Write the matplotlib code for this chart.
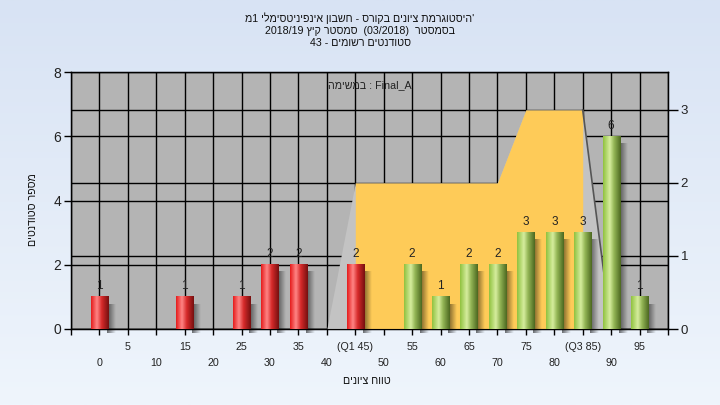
import re
import numpy as np
import matplotlib
matplotlib.use('Agg')
import matplotlib.pyplot as plt
from matplotlib.colors import to_rgb

plt.rcParams['font.family'] = ['Liberation Sans', 'DejaVu Sans']

# ---------------- data ----------------
grades = [0, 15, 25, 30, 35, 45, 55, 60, 65, 70, 75, 80, 85, 90, 95]
counts = [1, 1, 1, 2, 2, 2, 2, 1, 2, 2, 3, 3, 3, 6, 1]
pass_mark = 55

area_x = [40, 45, 50, 55, 60, 65, 70, 75, 80, 85, 90]
area_y = [0, 2, 2, 2, 2, 2, 2, 3, 3, 3, 0]
q1, q3 = 45, 85

major_ticks = [0, 10, 20, 30, 40, 50, 60, 70, 80, 90, 100]
major_labels = ['0', '10', '20', '30', '40', '50', '60', '70', '80', '90', '']
minor_ticks = [-5, 5, 15, 25, 35, 45, 55, 65, 75, 85, 95]
minor_labels = ['', '5', '15', '25', '35', '(Q1 45)', '55', '65', '75', '(Q3 85)', '95']

left_ticks = [0, 2, 4, 6, 8]
right_ticks = [0, 1, 2, 3]

title1 = "היסטוגרמת ציונים בקורס - חשבון אינפיניטסימלי 1מ"
title2 = "בסמסטר  (03/2018)  סמסטר קיץ 2018/19"
title3 = "סטודנטים רשומים - 43"
ylabel = "מספר סטודנטים"
xlabel = "טווח ציונים"
legend_he = "במשימה"


def rtl(s):
    """Visual (left-to-right) order for a right-to-left string."""
    r = s[::-1]
    r = re.sub(r'[0-9A-Za-z_/.]+', lambda m: m.group(0)[::-1], r)
    return r.translate(str.maketrans('()', ')('))


# ---------------- figure ----------------
fig = plt.figure(figsize=(7.2, 4.05), dpi=100)

bg = fig.add_axes([0, 0, 1, 1], zorder=-10)
g = np.linspace(0, 1, 256)[:, None, None]
ctop = np.array(to_rgb('#d8e3f4'))
cbot = np.array(to_rgb('#eff5fc'))
bg.imshow(ctop * (1 - g) + cbot * g, aspect='auto', extent=[0, 1, 0, 1])
bg.axis('off')

L, B = 71 / 720, 1 - 329 / 405
W, H = (668 - 71) / 720, (329 - 72) / 405
ax = fig.add_axes([L, B, W, H], zorder=1)
ax.set_facecolor('#b4b4b4')
ax.set_xlim(-5, 100)
ax.set_ylim(0, 8)
ax.set_yticks(left_ticks)
ax.set_xticks(major_ticks)
ax.set_xticklabels(major_labels)
ax.set_xticks(minor_ticks, minor=True)
ax.set_xticklabels(minor_labels, minor=True)
ax.set_axisbelow(True)
ax.yaxis.grid(True, color='black', lw=1)
ax.xaxis.grid(True, which='both', color='black', lw=1)
ax.tick_params(axis='y', direction='out', length=5, width=1, pad=2,
               labelsize=10, labelcolor='#222222')
ax.tick_params(axis='x', which='both', direction='out', length=4, width=1,
               labelsize=7.7, labelcolor='#222222')
ax.tick_params(axis='x', which='major', pad=17)
ax.tick_params(axis='x', which='minor', pad=5)
for s in ax.spines.values():
    s.set_color('black')
    s.set_linewidth(1)

# right axis with area
ax2 = ax.twinx()
ax2.set_zorder(2)
ax2.patch.set_visible(False)
ax2.set_ylim(0, 3.52)
ax2.set_yticks(right_ticks)
ax2.set_axisbelow(True)
ax2.yaxis.grid(True, color='black', lw=1)
ax2.tick_params(axis='y', direction='out', length=7, width=1, pad=2,
                labelsize=9.5, labelcolor='#222222')
ax_x = np.array(area_x)
ax_y = np.array(area_y)
ax2.fill_between(ax_x, 0, ax_y, color='#c3c3c3', lw=0, zorder=1)
ax2.fill_between(ax_x, 0, ax_y, where=(ax_x >= q1) & (ax_x <= q3),
                 color='#fecb58', lw=0, zorder=1.1)
ax2.plot(ax_x[-2:], ax_y[-2:], color='#555555', lw=1.2, zorder=1.2)
for s in ax2.spines.values():
    s.set_color('black')

# bars layer
ax3 = ax.twinx()
ax3.set_zorder(3)
ax3.patch.set_visible(False)
ax3.set_yticks([])
for s in ax3.spines.values():
    s.set_visible(False)


def gradient(stops, n=64):
    pos = [p for p, _ in stops]
    cols = np.array([to_rgb(c) for _, c in stops])
    t = np.linspace(0, 1, n)
    arr = np.stack([np.interp(t, pos, cols[:, k]) for k in range(3)], axis=-1)
    return arr[None, :, :]


red_grad = gradient([(0, '#e51c1c'), (0.33, '#ff8585'), (0.6, '#d72a2a'), (1, '#761010')])
green_grad = gradient([(0, '#90c23f'), (0.38, '#d6ed9e'), (0.62, '#93b555'), (1, '#4c6820')])
shadow = np.zeros((1, 32, 4))
shadow[..., 3] = np.linspace(0.55, 0.0, 32)

bars = ax3.bar(grades, counts, width=3.0, color='none', lw=0, zorder=3)
for rect, gr, v in zip(bars, grades, counts):
    x0, w, h = rect.get_x(), rect.get_width(), rect.get_height()
    ax3.imshow(shadow, extent=[x0 + w - 0.2, x0 + w + 1.3, -0.12, h - 0.22],
               aspect='auto', interpolation='bilinear', zorder=2.5, clip_on=False)
    img = red_grad if gr < pass_mark else green_grad
    ax3.imshow(img, extent=[x0, x0 + w, 0, h], aspect='auto',
               interpolation='bilinear', zorder=3)
    ax3.text(rect.get_x() + w / 2, h + 0.14, str(v), ha='center', va='bottom',
             fontsize=8.5, color='#222222')

ax3.set_xlim(-5, 100)
ax3.set_ylim(0, 8)
ax3.text(0.5, 0.949, rtl(legend_he) + ' : Final_A', transform=ax3.transAxes,
         ha='center', va='center', fontsize=7.7, color='#222222')

# titles and axis labels
fig.text(0.5, 1 - 18 / 405, rtl(title1) + "'", ha='center', va='center',
         fontsize=7.7, color='#111111')
fig.text(0.5, 1 - 31 / 405, rtl(title2), ha='center', va='center',
         fontsize=7.7, color='#111111')
fig.text(0.5, 1 - 43 / 405, rtl(title3), ha='center', va='center',
         fontsize=7.7, color='#111111')
fig.text(367 / 720, 1 - 381 / 405, rtl(xlabel), ha='center', va='center',
         fontsize=7.7, color='#111111')
fig.text(33 / 720, 1 - 210 / 405, rtl(ylabel), ha='center', va='center',
         rotation=90, fontsize=7.7, color='#111111')

fig.savefig('out.png', dpi=100)
